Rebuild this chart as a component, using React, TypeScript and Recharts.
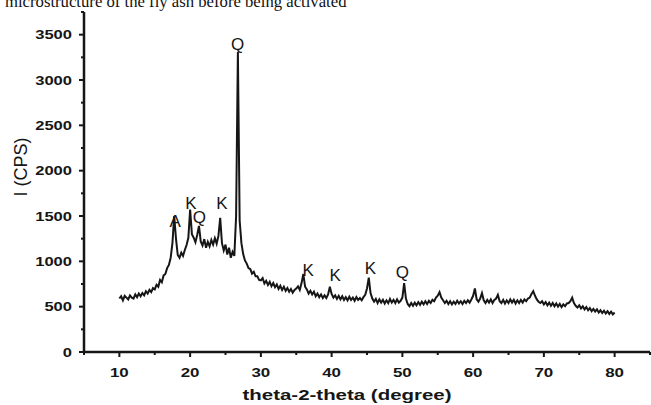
import { ComposedChart, Line, XAxis, YAxis, ReferenceDot } from 'recharts';

const START_ANGLE = 10;
const STEP = 0.25;

// intensity (CPS), one value every 0.25 degree from 10 to 80
const counts: number[] = [
  // 10 - 14.75
  590, 615, 570, 620, 600, 580, 625, 600, 590, 635, 605, 645, 615, 650, 625, 670, 645, 685, 660, 705,
  // 15 - 19.75
  690, 740, 720, 795, 770, 845, 860, 925, 960, 1040, 1200, 1500, 1250, 1070, 1040, 1095, 1060, 1125, 1180, 1260,
  // 20 - 24.75
  1570, 1300, 1260, 1210, 1290, 1390, 1220, 1175, 1245, 1150, 1215, 1165, 1235, 1185, 1255, 1195, 1280, 1480, 1200, 1120,
  // 25 - 29.75
  1185, 1075, 1150, 1040, 1105, 1060, 1500, 3310, 1450, 1200, 1080, 1010, 975, 925, 915, 865, 885, 835, 835, 795,
  // 30 - 34.75
  790, 815, 755, 785, 740, 775, 725, 760, 715, 745, 695, 730, 685, 720, 675, 705, 665, 695, 655, 685,
  // 35 - 39.75
  700, 725, 685, 760, 860, 720, 690, 645, 675, 635, 665, 615, 645, 605, 635, 595, 625, 595, 635, 720,
  // 40 - 44.75
  640, 600, 625, 585, 620, 580, 615, 575, 605, 570, 610, 575, 600, 565, 605, 575, 595, 570, 605, 630,
  // 45 - 49.75
  700, 820, 650, 590, 555, 585, 540, 580, 545, 575, 535, 570, 540, 585, 545, 575, 540, 580, 545, 565,
  // 50 - 54.75
  600, 760, 590, 530, 505, 540, 510, 545, 515, 550, 520, 555, 525, 560, 530, 565, 540, 575, 560, 600,
  // 55 - 59.75
  620, 660, 600, 570, 540, 565, 530, 560, 525, 555, 530, 565, 535, 560, 530, 565, 540, 570, 545, 580,
  // 60 - 64.75
  620, 700, 580, 555, 590, 650, 570, 540, 575, 545, 580, 540, 575, 590, 630, 560, 540, 575, 535, 570,
  // 65 - 69.75
  540, 580, 545, 575, 535, 570, 540, 575, 545, 580, 560, 590, 600, 640, 670, 620, 580, 555, 540, 560,
  // 70 - 74.75
  525, 550, 515, 545, 510, 540, 505, 535, 500, 530, 495, 525, 505, 535, 540, 560, 600, 540, 510, 490,
  // 75 - 79.75
  515, 480, 505, 470, 495, 460, 485, 450, 475, 445, 470, 435, 460, 430, 455, 425, 450, 420, 445, 415,
  // 80
  435,
];

const pattern = counts.map((cps, i) => ({ angle: START_ANGLE + i * STEP, cps }));

// phase labels over the peaks
const peakNames = ['A', 'K', 'Q', 'K', 'Q', 'K', 'K', 'K', 'Q'];
const peakAngles = [17.9, 20.1, 21.3, 24.5, 26.7, 36.7, 40.5, 45.5, 50.0];
const peakLabelCps = [1440, 1640, 1490, 1640, 3400, 900, 850, 925, 880];

const xTicks = [5, 10, 15, 20, 25, 30, 35, 40, 45, 50, 55, 60, 65, 70, 75, 80, 85];
const yTicks = [0, 250, 500, 750, 1000, 1250, 1500, 1750, 2000, 2250, 2500, 2750, 3000, 3250, 3500, 3750];

const INK = '#161616';
const SANS = '"Liberation Sans", Arial, sans-serif';

const YTick = (props: any) => {
  const { x, y, payload } = props;
  const v = payload.value;
  const major = v % 500 === 0 && v <= 3500;
  const s = String(v);
  return (
    <g>
      <line x1={x} x2={x - (major ? 5 : 3)} y1={y} y2={y} stroke={INK} strokeWidth={2} />
      {major && (
        <text x={x - 12} y={y + 4.5} textAnchor="end" fontFamily={SANS} fontWeight="bold" fontSize={13}
          fill={INK} textLength={s.length * 9.2} lengthAdjust="spacingAndGlyphs">
          {s}
        </text>
      )}
    </g>
  );
};

const XTick = (props: any) => {
  const { x, y, payload } = props;
  const v = payload.value;
  const major = v % 10 === 0;
  const s = String(v);
  return (
    <g>
      <line x1={x} x2={x} y1={y} y2={y + (major ? 5 : 3)} stroke={INK} strokeWidth={2} />
      {major && (
        <text x={x} y={y + 25} textAnchor="middle" fontFamily={SANS} fontWeight="bold" fontSize={13}
          fill={INK} textLength={s.length * 9.4} lengthAdjust="spacingAndGlyphs">
          {s}
        </text>
      )}
    </g>
  );
};

const yTitle = ({ viewBox }: any) => {
  const cx = viewBox.x + 21;
  const cy = viewBox.y + viewBox.height / 2 - 15;
  return (
    <text x={cx} y={cy} transform={`rotate(-90 ${cx} ${cy})`} textAnchor="middle" dominantBaseline="central"
      fontFamily={SANS} fontSize={18} fill={INK}>
      I (CPS)
    </text>
  );
};

const xTitle = ({ viewBox }: any) => {
  const cx = viewBox.x + viewBox.width / 2 - 20;
  return (
    <text x={cx} y={viewBox.y + 48} textAnchor="middle" fontFamily={SANS} fontWeight="bold" fontSize={15}
      fill={INK} textLength={209} lengthAdjust="spacingAndGlyphs">
      theta-2-theta (degree)
    </text>
  );
};

export default function App() {
  return (
    <div style={{ position: 'absolute', left: 0, top: 0, width: 651, height: 405, background: '#fff' }}>
      <svg width={651} height={20} style={{ position: 'absolute', left: 0, top: 0 }}>
        <text x={5} y={7} fontFamily='"Liberation Serif", "Times New Roman", serif' fontSize={16.7} fill="#111">
          microstructure of the fly ash before being activated
        </text>
      </svg>
      <ComposedChart width={651} height={405} data={pattern} margin={{ top: 12, right: 1, bottom: 0, left: 0 }}>
        <XAxis
          dataKey="angle"
          type="number"
          domain={[5, 85]}
          ticks={xTicks}
          interval={0}
          height={53}
          tickSize={0}
          tickMargin={0}
          tickLine={false}
          tick={<XTick />}
          axisLine={{ stroke: INK, strokeWidth: 2.5 }}
          label={{ content: xTitle }}
        />
        <YAxis
          type="number"
          domain={[0, 3750]}
          ticks={yTicks}
          interval={0}
          width={84}
          tickSize={0}
          tickMargin={0}
          tickLine={false}
          tick={<YTick />}
          axisLine={{ stroke: INK, strokeWidth: 2.5 }}
          label={{ content: yTitle }}
        />
        <Line
          type="linear"
          dataKey="cps"
          stroke={INK}
          strokeWidth={2}
          strokeLinejoin="miter"
          dot={false}
          isAnimationActive={false}
        />
        {peakNames.map((name, i) => (
          <ReferenceDot
            key={i}
            x={peakAngles[i]}
            y={peakLabelCps[i]}
            r={0}
            fill="none"
            stroke="none"
            ifOverflow="visible"
            label={{ value: name, position: 'center', fontSize: 17, fill: INK, fontFamily: SANS }}
          />
        ))}
      </ComposedChart>
    </div>
  );
}
